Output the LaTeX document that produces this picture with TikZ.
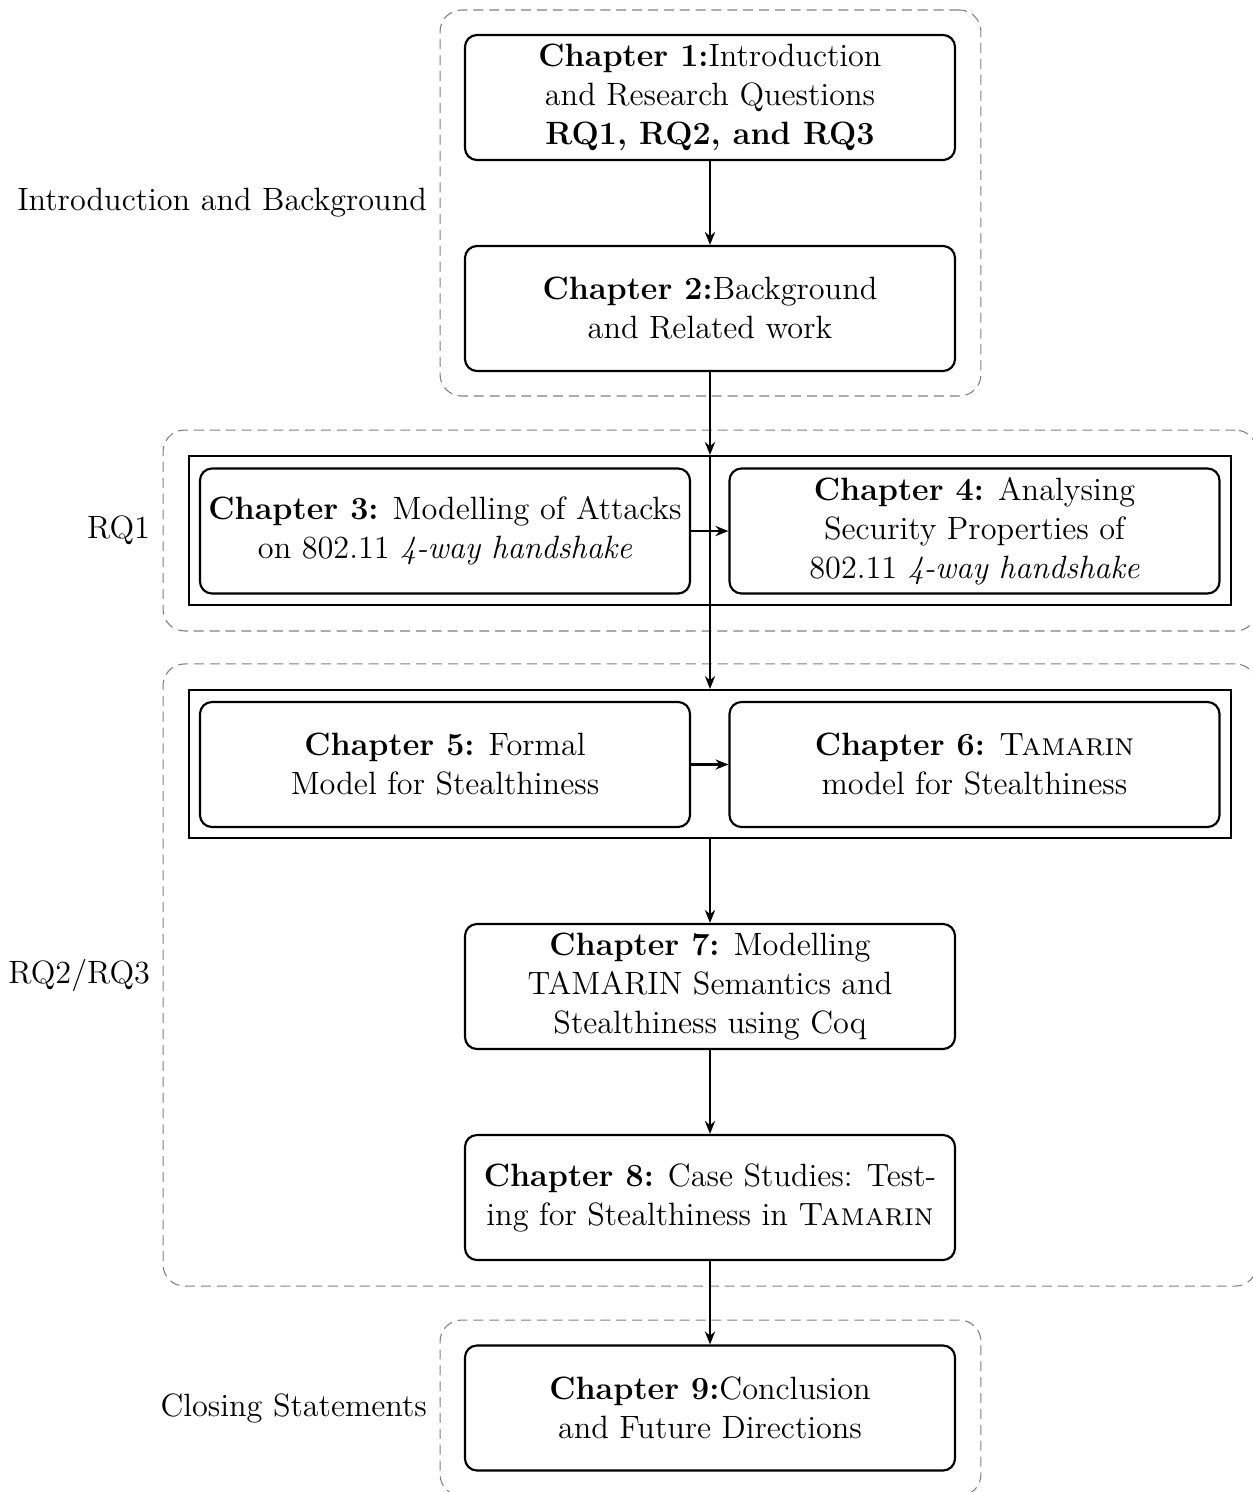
\documentclass[12pt,tikz,border=0pt]{standalone}
\usetikzlibrary{arrows.meta}
\tikzset{
  chapbox/.style={draw, thick, rounded corners=4.5pt, align=center, inner sep=0pt,
    minimum width=182.2pt, minimum height=46.5pt},
  framebox/.style={draw, thick, inner sep=0pt, minimum width=387.4pt},
  groupbox/.style={draw=gray, thin, dash pattern=on 3.7pt off 2.2pt, rounded corners=8pt,
    inner sep=0pt},
  grouplabel/.style={anchor=east, inner sep=4.5pt},
  flow/.style={thick, -{Stealth[length=4.8pt,width=3.8pt]}}
}
\begin{document}
\begin{tikzpicture}[x=0.371795pt, y=-0.371795pt]
  \useasboundingbox (0,0) rectangle (1253,1492);

  % dashed groups
  \node[groupbox, minimum width=201.1pt, minimum height=143.5pt] (g1) at (710.5,203) {};
  \node[groupbox, minimum width=406.7pt, minimum height=74.7pt] (g2) at (710,530.5) {};
  \node[groupbox, minimum width=406.7pt, minimum height=231.3pt] (g3) at (710,975) {};
  \node[groupbox, minimum width=201.1pt, minimum height=65.4pt] (g4) at (710.5,1408) {};

  \node[grouplabel] (l1) at (g1.west) {Introduction and Background};
  \node[grouplabel] (l2) at (g2.west) {RQ1};
  \node[grouplabel] (l3) at (g3.west) {RQ2/RQ3};
  \node[grouplabel] (l4) at (g4.west) {Closing Statements};

  % frames around the paired chapters
  \node[framebox, minimum height=55.4pt] (f1) at (710,530.5) {};
  \node[framebox, minimum height=55.0pt] (f2) at (710,764) {};

  % chapters
  \node[chapbox] (c1) at (710,97.5) {\textbf{Chapter 1:}Introduction\\and Research Questions\\\textbf{RQ1, RQ2, and RQ3}};
  \node[chapbox] (c2) at (710,308.5) {\textbf{Chapter 2:}Background\\and Related work};
  \node[chapbox] (c3) at (445,531) {\textbf{Chapter 3:} Modelling of Attacks\\on 802.11 \textit{4-way handshake}};
  \node[chapbox] (c4) at (974.5,531) {\textbf{Chapter 4:} Analysing\\Security Properties of\\802.11 \textit{4-way handshake}};
  \node[chapbox] (c5) at (445,764.5) {\textbf{Chapter 5:} Formal\\Model for Stealthiness};
  \node[chapbox] (c6) at (974.5,764.5) {\textbf{Chapter 6:} \textsc{Tamarin}\\model for Stealthiness};
  \node[chapbox] (c7) at (710,986.5) {\textbf{Chapter 7:} Modelling\\TAMARIN Semantics and\\Stealthiness using Coq};
  \node[chapbox] (c8) at (710,1197.5) {\textbf{Chapter 8:} Case Studies: Test-\\ing for Stealthiness in \textsc{Tamarin}};
  \node[chapbox] (c9) at (710,1408) {\textbf{Chapter 9:}Conclusion\\and Future Directions};

  % flow between chapters
  \draw[flow] (c1) -- (c2);
  \draw[flow] (c2) -- (f1.north);
  \draw[flow] (f1.north) -- (f2.north);
  \draw[flow] (c3) -- (c4);
  \draw[flow] (c5) -- (c6);
  \draw[flow] (f2.south) -- (c7);
  \draw[flow] (c7) -- (c8);
  \draw[flow] (c8) -- (c9);
\end{tikzpicture}
\end{document}
